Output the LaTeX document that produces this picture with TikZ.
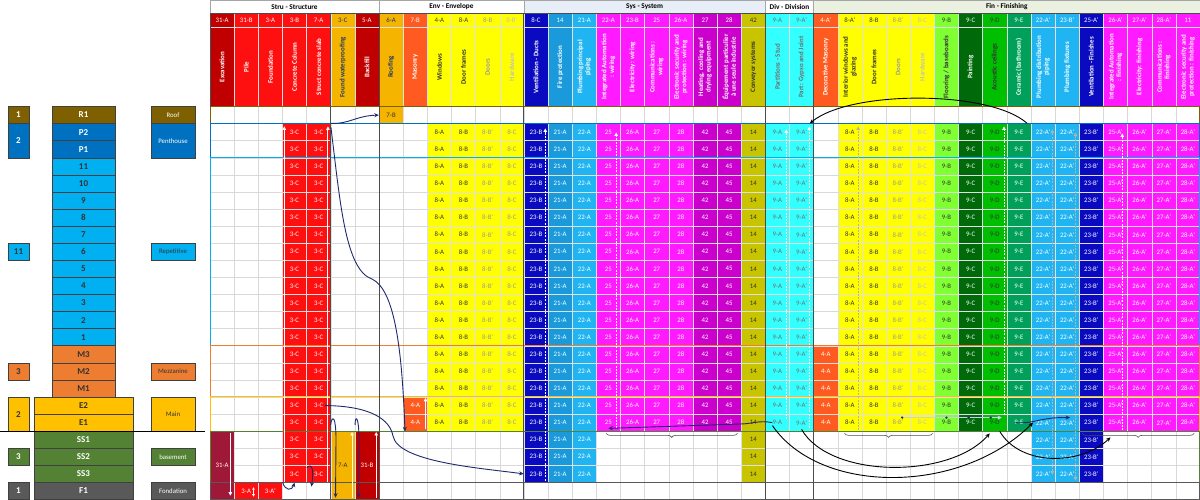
\documentclass[tikz,border=0pt]{standalone}
\usepackage{fontspec}
\setmainfont{Carlito}
\usepackage{tikz}
\usetikzlibrary{arrows.meta,calc,decorations.pathreplacing}

% level colours
\definecolor{roofc}{HTML}{7F6000}
\definecolor{pentc}{HTML}{0070C0}
\definecolor{repc}{HTML}{00B0F0}
\definecolor{mezc}{HTML}{ED7D31}
\definecolor{mainc}{HTML}{FFC000}
\definecolor{basec}{HTML}{548235}
\definecolor{fondc}{HTML}{595959}
% trade colours
\definecolor{crimc}{HTML}{A01838}
\definecolor{dredc}{HTML}{C00000}
\definecolor{redc}{HTML}{FF1010}
\definecolor{goldc}{HTML}{F5B400}
\definecolor{orgc}{HTML}{FF5A20}
\definecolor{yelc}{HTML}{FFFF00}
\definecolor{dbluc}{HTML}{0A0AC0}
\definecolor{mbluc}{HTML}{1A9ADA}
\definecolor{lbluc}{HTML}{20B4F2}
\definecolor{magc}{HTML}{FF1AFF}
\definecolor{purc}{HTML}{CC00CC}
\definecolor{olvc}{HTML}{C8C400}
\definecolor{cyac}{HTML}{33FFFF}
\definecolor{lgrc}{HTML}{80FF33}
\definecolor{dgrc}{HTML}{006A0A}
\definecolor{grnc}{HTML}{00BE00}
\definecolor{sgrc}{HTML}{00A05A}
\definecolor{sysbg}{HTML}{E8EEF7}
\definecolor{finbg}{HTML}{EAF1E0}
% text colours
\definecolor{darkt}{HTML}{333333}
\definecolor{greyt}{HTML}{9A9A9A}
\definecolor{palet}{HTML}{C0C0C0}
\definecolor{cyant}{HTML}{6E6E6E}
\definecolor{navyt}{HTML}{1F3864}
\definecolor{navyc}{HTML}{1F2A6E}

\tikzset{
  cellbox/.style={minimum width=24.146pt, minimum height=17.087pt, inner sep=0pt,
    draw=black!12, line width=0.4pt, font=\fontsize{6.8}{7.5}\selectfont},
  codebox/.style={minimum width=24.146pt, minimum height=14pt, inner sep=0pt,
    draw=black!12, line width=0.4pt, font=\fontsize{6.8}{7.5}\selectfont},
  titlebox/.style={rotate=90, minimum width=79pt, minimum height=24.146pt, inner sep=0.3pt,
    align=center, draw=black!12, line width=0.4pt, font=\bfseries\fontsize{6.9}{7.6}\selectfont},
  groupbox/.style={minimum height=13.5pt, inner sep=0pt, draw=black!35, line width=0.5pt,
    font=\bfseries\fontsize{7.3}{8}\selectfont},
  levelbox/.style={minimum height=17.087pt, inner sep=0pt, draw=black!75, line width=0.5pt,
    font=\bfseries\fontsize{9}{10}\selectfont},
  countbox/.style={minimum width=21pt, inner sep=0pt, draw=black!75, line width=0.5pt,
    font=\bfseries\fontsize{9}{10}\selectfont},
  tagbox/.style={minimum width=44pt, inner sep=0pt, draw=black!75, line width=0.5pt,
    font=\fontsize{6.8}{7.5}\selectfont},
  gridline/.style={draw=black!15, line width=0.5pt},
  sectionline/.style={line width=1pt},
  divline/.style={draw=black!70, line width=0.9pt},
  flowarrow/.style={draw=navyc, line width=0.9pt, -{Stealth[length=4.5pt,width=4pt]}},
  arcarrow/.style={draw=black, line width=0.9pt, -{Stealth[length=4.5pt,width=4pt]}},
  liftarrow/.style={draw=white, line width=0.9pt, -{Triangle[length=3.5pt,width=3.5pt]}},
  liftdash/.style={liftarrow, dash pattern=on 2pt off 1.2pt},
  greydash/.style={liftdash, draw=black!30},
  floorbrace/.style={decorate, decoration={brace, amplitude=4pt}, draw=black!70, line width=0.6pt},
}

\begin{document}
\begin{tikzpicture}[x=1pt,y=-1pt]
\useasboundingbox (0,0) rectangle (1200,499);
\fill[white] (0,0) rectangle (1200,499);

% building section on the left
\foreach \r/\lab/\fc/\tc in {0/R1/roofc/white, 1/P2/pentc/white, 2/P1/pentc/white,
    3/11/repc/darkt, 4/10/repc/darkt, 5/9/repc/darkt, 6/8/repc/darkt, 7/7/repc/darkt,
    8/6/repc/darkt, 9/5/repc/darkt, 10/4/repc/darkt, 11/3/repc/darkt, 12/2/repc/darkt,
    13/1/repc/darkt, 14/M3/mezc/darkt, 15/M2/mezc/darkt, 16/M1/mezc/darkt} {
  \node[levelbox, minimum width=63pt, fill=\fc, text=\tc] (lv-\r) at (83.5,{106.5+17.087*(\r+0.5)}) {\lab};
}
\foreach \r/\lab/\fc/\tc in {17/E2/mainc/darkt, 18/E1/mainc/darkt, 19/SS1/basec/white,
    20/SS2/basec/white, 21/SS3/basec/white, 22/F1/fondc/white} {
  \node[levelbox, minimum width=99pt, fill=\fc, text=\tc] (lv-\r) at (83.5,{106.5+17.087*(\r+0.5)}) {\lab};
}
\foreach \ra/\rb/\num/\tag/\fc/\tc in {0/1/1/Roof/roofc/white, 1/3/2/Penthouse/pentc/white,
    8/9/11/Repetitive/repc/darkt, 15/16/3/Mezzanine/mezc/darkt, 17/19/2/Main/mainc/darkt,
    20/21/3/basement/basec/white, 22/23/1/Fondation/fondc/white} {
  \pgfmathsetmacro\bh{17.087*(\rb-\ra)}
  \pgfmathsetmacro\by{106.5+17.087*(\ra+\rb)/2}
  \node[countbox, minimum height=\bh pt, fill=\fc, text=\tc] (n-\ra) at (18.5,\by) {\num};
  \node[tagbox, minimum height=\bh pt, fill=\fc, text=\tc] (tag-\ra) at (173,\by) {\tag};
}
% ground line
\draw[line width=0.9pt] (0,431.15) -- (205,431.15);

% header groups
\foreach \ca/\cb/\gc/\gname/\gtxt in {0/7/white/stru/{Stru - Structure}, 7/13/white/env/{Env - Envelope},
    13/23/sysbg/sys/{Sys - System}, 23/25/white/div/{Div - Division}, 25/41/finbg/fin/{Fin - Finishing}} {
  \pgfmathsetmacro\gw{24.146*(\cb-\ca)}
  \pgfmathsetmacro\gx{210+24.146*(\ca+\cb)/2}
  \node[groupbox, minimum width=\gw pt, fill=\gc] (g-\gname) at (\gx,6.75) {\gtxt};
}

% header codes and titles
\foreach \c/\code/\fc/\tc/\ttl in {
    0/31-A/dredc/white/{Excavation}, 1/31-B/redc/white/{Pile}, 2/3-A/redc/white/{Foundation},
    3/3-B/redc/white/{Concrete Column}, 4/7-A/redc/white/{Struct concrete slab},
    5/3-C/goldc/navyt/{Found waterproofing}, 6/5-A/dredc/white/{Backfill},
    7/6-A/goldc/navyt/{Roofing}, 8/7-B/orgc/white/{Masonry}, 9/4-A/yelc/darkt/{Windows},
    10/8-A/yelc/darkt/{Door frames}, 11/8-B/yelc/greyt/{Doors}, 12/8-B'/yelc/palet/{Hardware},
    13/8-C/dbluc/white/{Ventilation - Ducts}, 14/14/mbluc/white/{Fire protection},
    15/21-A/lbluc/white/{Plumbing principal\\piping}, 16/22-A/magc/white/{Integrated Automation\\: wiring},
    17/23-B/magc/white/{Electricity: wiring}, 18/25/magc/white/{Communications :\\wiring},
    19/26-A/magc/white/{Electronic security and\\protection : wiring},
    20/27/purc/white/{Heating, cooling and\\drying equipment},
    21/28/purc/white/{Équipement particulier\\à une seule industrie},
    22/42/olvc/darkt/{Conveyor systems}, 23/9-A/cyac/cyant/{Partitions - Stud},
    24/9-A'/cyac/cyant/{Part: Gypso and Joint}, 25/4-A'/orgc/white/{Decorative Masonry},
    26/8-A'/yelc/darkt/{Interior windows and\\glazing}, 27/8-B/yelc/darkt/{Door frames},
    28/8-B'/yelc/greyt/{Doors}, 29/8-C/yelc/palet/{Hardware},
    30/9-B/lgrc/darkt/{Flooring / baseboards}, 31/9-C/dgrc/white/{Painting},
    32/9-D/grnc/darkt/{Acoustic ceilings}, 33/9-E/sgrc/white/{Ceramic (bathroom)},
    34/22-A'/lbluc/white/{Plumbing distribution\\piping}, 35/23-B'/lbluc/white/{Plumbing fixtures},
    36/25-A'/dbluc/white/{Ventilation - Finishes}, 37/26-A'/magc/white/{Integrated Automation\\: finishing},
    38/27-A'/magc/white/{Electricity: finishing}, 39/28-A'/magc/white/{Communications :\\finishing},
    40/11/magc/white/{Electronic security and\\protection : finishing}} {
  \node[codebox, fill=\fc, text=\tc] (k-\c) at ({210+24.146*(\c+0.5)},20.5) {\code};
  \node[titlebox, fill=\fc, text=\tc] (t-\c) at ({210+24.146*(\c+0.5)},67) {\ttl};
}

% empty grid
\foreach \k in {0,...,41}
  \draw[gridline] ({210+24.146*\k},106.5) -- ({210+24.146*\k},499);
\foreach \r in {0,...,23}
  \draw[gridline] (210,{106.5+17.087*\r}) -- (1200,{106.5+17.087*\r});

% trade cells, column / first row / last row
\foreach \c/\ra/\rb/\fc/\tc/\lab in {
    3/1/21/redc/white/3-C, 4/1/21/redc/white/3-C,
    9/1/18/yelc/darkt/8-A, 10/1/18/yelc/darkt/8-B, 11/1/18/yelc/greyt/8-B', 12/1/18/yelc/greyt/8-C,
    13/1/21/dbluc/white/23-B, 14/1/21/mbluc/white/21-A, 15/1/21/lbluc/white/22-A,
    16/1/18/magc/white/25, 17/1/18/magc/white/26-A, 18/1/18/magc/white/27, 19/1/18/magc/white/28,
    20/1/18/purc/white/42, 21/1/18/purc/white/45, 22/1/21/olvc/darkt/14,
    23/1/18/cyac/cyant/9-A, 24/1/18/cyac/cyant/9-A', 25/14/18/orgc/white/4-A,
    26/1/18/yelc/darkt/8-A, 27/1/18/yelc/darkt/8-B, 28/1/18/yelc/greyt/8-B', 29/1/18/yelc/palet/8-C,
    30/1/18/lgrc/darkt/9-B, 31/1/18/dgrc/white/9-C, 32/1/18/grnc/darkt/9-D, 33/1/18/sgrc/white/9-E,
    34/1/21/lbluc/white/22-A', 35/1/21/lbluc/white/22-A', 36/1/21/dbluc/white/23-B',
    37/1/18/magc/white/25-A', 38/1/18/magc/white/26-A', 39/1/18/magc/white/27-A', 40/1/18/magc/white/28-A',
    8/17/18/orgc/white/4-A, 7/0/0/goldc/darkt/7-B, 1/22/22/redc/white/3-A, 2/22/22/redc/white/3-A'} {
  \foreach \r in {\ra,...,\rb}
    \node[cellbox, fill=\fc, text=\tc] (c-\c-\r) at ({210+24.146*(\c+0.5)},{106.5+17.087*(\r+0.5)}) {\lab};
}
% merged blocks in the basement
\node[cellbox, minimum height=68.35pt, fill=crimc, text=white] (blk-0) at ({210+24.146*0.5},{106.5+17.087*21}) {31-A};
\node[cellbox, minimum height=68.35pt, fill=goldc, text=darkt] (blk-5) at ({210+24.146*5.5},{106.5+17.087*21}) {7-A};
\node[cellbox, minimum height=68.35pt, fill=dredc, text=white] (blk-6) at ({210+24.146*6.5},{106.5+17.087*21}) {31-B};

% level bands
\foreach \ra/\rb/\sc in {0/1/roofc, 1/3/pentc, 3/14/repc, 14/17/mezc, 17/19/mainc, 19/22/basec, 22/23/fondc}
  \draw[sectionline, draw=\sc] (210.5,{106.5+17.087*\ra}) rectangle (1199.5,{106.5+17.087*\rb});
% trade group dividers
\foreach \k in {5,7,13,23,25}
  \draw[divline] ({210+24.146*\k},13.5) -- ({210+24.146*\k},499);
\draw[divline] (210,13.5) -- (210,106.5);
\draw[divline] (210,13.5) -- (1200,13.5);

% white lifts
\draw[liftarrow] ([xshift=2pt,yshift=1pt]c-3-21.south west) -- ([xshift=2pt,yshift=-3pt]c-3-1.north west);
\draw[liftarrow] ([xshift=-3pt,yshift=1pt]c-4-21.south east) -- ([xshift=-3pt,yshift=-3pt]c-4-1.north east);
\draw[liftarrow] ([xshift=-4pt,yshift=-2pt]blk-0.north east) -- ([xshift=-4pt,yshift=4pt]blk-0.south east);
\draw[liftarrow] ([xshift=-3pt,yshift=2pt]blk-5.south east) -- ([xshift=-3pt,yshift=-1pt]blk-5.north east);
\draw[liftarrow] ([xshift=-3pt,yshift=2pt]blk-6.south east) -- ([xshift=-3pt,yshift=-1pt]blk-6.north east);
\draw[liftarrow] ([xshift=-2pt,yshift=2pt]c-8-18.south east) -- ([xshift=-2pt,yshift=-1pt]c-8-17.north east);
\draw[liftarrow, {Triangle[length=2.5pt,width=2.5pt]}-{Triangle[length=2.5pt,width=2.5pt]}]
  ([xshift=-5pt,yshift=3pt]c-1-22.south east) -- ([xshift=-5pt,yshift=-5pt]c-1-22.north east);

% dashed lifts
\draw[liftdash] ([xshift=-3pt,yshift=2pt]c-13-21.south east) -- ([xshift=-3pt,yshift=-5pt]c-13-1.north east);
\draw[liftdash] ([xshift=-4.5pt,yshift=3pt]c-16-18.south east) -- ([xshift=-4.5pt,yshift=-9pt]c-16-1.north east);
\draw[liftdash] ([xshift=-3.5pt,yshift=12pt]c-23-18.south east) -- ([xshift=-3.5pt,yshift=-6pt]c-23-1.north east);
\draw[liftdash] ([xshift=-4.5pt,yshift=3pt]c-24-18.south east) -- ([xshift=-4.5pt,yshift=-3pt]c-24-1.north east);
\draw[greydash] ([xshift=-4pt,yshift=1pt]c-26-18.south east) -- ([xshift=-4pt,yshift=-3pt]c-26-1.north east);
\draw[liftdash] ([xshift=-3pt,yshift=16pt]c-32-18.south east) -- ([xshift=-3pt,yshift=-3pt]c-32-1.north east);
\draw[greydash, {Triangle[length=3.5pt,width=3.5pt]}-{Triangle[length=3.5pt,width=3.5pt]}]
  ([xshift=-3pt,yshift=8pt]c-34-21.south east) -- ([xshift=-3pt,yshift=-6pt]c-34-1.north east);
\draw[greydash, {Triangle[length=3.5pt,width=3.5pt]}-{Triangle[length=3.5pt,width=3.5pt]}]
  ([xshift=-4pt,yshift=2pt]c-35-21.south east) -- ([xshift=-4pt,yshift=-9pt]c-35-1.north east);
\draw[liftdash] ([xshift=-5.5pt,yshift=1pt]c-37-18.south east) -- ([xshift=-5.5pt,yshift=-10pt]c-37-1.north east);

% flow links
\draw[flowarrow] (c-4-1.north east) .. controls (350,124) and (355,116) .. (c-7-0.west);
\draw[flowarrow] ([yshift=-4pt]c-4-1.north east) .. controls (340,200) and (345,270) .. (372,279)
  .. controls (395,290) and (402,350) .. ([xshift=2pt]c-8-18.south west);
\draw[flowarrow] ([xshift=6pt]c-4-17.center) .. controls (372,406) and (390,420) .. (393,436)
  .. controls (398,462) and (480,468) .. (c-13-21.west);
\draw[flowarrow] ([yshift=6pt]blk-5.north west) .. controls (332,415) and (336,415) .. (336,440)
  -- ([xshift=5pt,yshift=2pt]blk-5.south west);
\draw[flowarrow] ([yshift=6pt]blk-5.north east) .. controls (355,415) and (359,415) .. (359,440)
  -- ([xshift=4pt,yshift=2pt]blk-6.south west);
\draw[flowarrow] ([yshift=6pt]c-3-21.east) .. controls (312,462) and (314,470) .. ([xshift=5pt,yshift=-4pt]c-4-21.south west);
\draw[flowarrow] (c-2-22.north east) .. controls (285,491) and (292,491) .. (c-3-21.south);
\draw[flowarrow] ([xshift=-5pt]c-23-18.center) .. controls (758,420) and (752,424) .. (740,424)
  -- ([yshift=3pt]c-16-18.south);
\draw[flowarrow] ([xshift=-3pt]c-33-18.center) .. controls (1035,424) and (1040,417) .. ([xshift=3pt,yshift=5pt]c-35-18.center);

% finishing sequence
\draw[draw=black!25!blue!20, line width=1.6pt, -{Triangle[length=4pt,width=4pt]}]
  ([xshift=4pt,yshift=5pt]c-28-18.center) -- ([xshift=7pt,yshift=5pt]c-32-18.center);
\foreach \c/\dx in {28/4, 30/0, 31/-2, 32/-4}
  \fill[navyc] ([xshift=\dx pt,yshift=5pt]c-\c-18.center) circle (1.3pt);

% returns between trades
\draw[arcarrow] ([xshift=-4pt]c-33-1.north east) .. controls (990,90) and (850,90) .. ([xshift=-4pt]c-24-1.north east);
\draw[arcarrow] ([xshift=-5pt,yshift=-3pt]c-23-18.center) .. controls (820,495) and (960,495) .. ([xshift=-10pt]c-34-18.center);
\draw[arcarrow] ([yshift=2pt]c-24-18.south) .. controls (830,479) and (950,479) .. ([xshift=-5pt,yshift=-2pt]c-32-18.south);
\draw[arcarrow] ([xshift=5pt]c-32-18.south) .. controls (1020,466) and (1080,466) .. ([xshift=-5pt,yshift=-6pt]c-37-18.south);

% braces
\draw[floorbrace] ([xshift=-4pt,yshift=-2pt]c-21-18.south east) -- ([xshift=10pt,yshift=-2pt]c-16-18.south west);
\draw[floorbrace] ([xshift=-2pt,yshift=-2pt]c-29-18.south east) -- ([xshift=7pt,yshift=-2pt]c-26-18.south west);
\draw[floorbrace] ([xshift=-6pt,yshift=-2pt]c-40-18.south east) -- ([xshift=3pt,yshift=-2pt]c-36-18.south west);
\end{tikzpicture}
\end{document}
